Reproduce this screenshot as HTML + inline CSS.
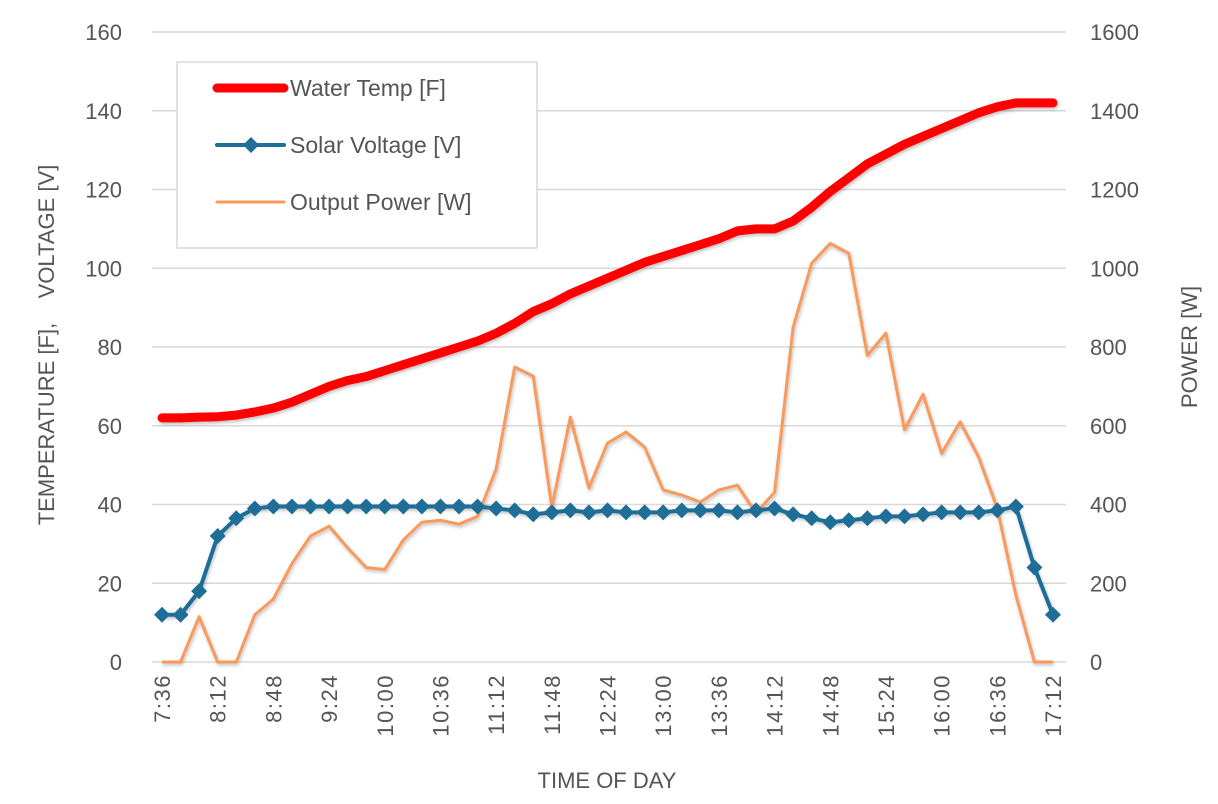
<!DOCTYPE html>
<html><head><meta charset="utf-8"><style>
body{margin:0;background:#fff;width:1218px;height:799px;overflow:hidden;font-family:"Liberation Sans",sans-serif}
svg text{font-family:"Liberation Sans",sans-serif;fill:#555}
</style></head><body>
<svg id="chart" width="1218" height="799" viewBox="0 0 1218 799"></svg>
<script>
const categories=["7:36","7:48","8:00","8:12","8:24","8:36","8:48","9:00","9:12","9:24","9:36","9:48","10:00","10:12","10:24","10:36","10:48","11:00","11:12","11:24","11:36","11:48","12:00","12:12","12:24","12:36","12:48","13:00","13:12","13:24","13:36","13:48","14:00","14:12","14:24","14:36","14:48","15:00","15:12","15:24","15:36","15:48","16:00","16:12","16:24","16:36","16:48","17:00","17:12"];
const waterTemp=[62,62,62.2,62.3,62.7,63.5,64.5,66,68,70,71.5,72.5,74,75.5,77,78.5,80,81.5,83.5,86,89,91,93.5,95.5,97.5,99.5,101.5,103,104.5,106,107.5,109.5,110,110,112,115.5,119.5,123,126.5,129,131.5,133.5,135.5,137.5,139.5,141,142,142,142];
const solarVoltage=[12,12,18,32,36.5,39,39.5,39.5,39.5,39.5,39.5,39.5,39.5,39.5,39.5,39.5,39.5,39.5,39,38.5,37.5,38,38.5,38,38.5,38,38,38,38.5,38.5,38.5,38,38.5,39,37.5,36.5,35.5,36,36.5,37,37,37.5,38,38,38,38.5,39.5,24,12];
const outputPower=[0,0,115,0,0,120,160,250,320,345,290,240,235,310,355,360,350,370,490,749,726,393,622,442,556,584,546,437,424,406,437,449,378,431,850,1013,1063,1038,779,835,590,680,530,610,520,390,170,0,0];
const leftTicks=[0,20,40,60,80,100,120,140,160];
const rightTicks=[0,200,400,600,800,1000,1200,1400,1600];
</script>
<script>
(function(){
const svg=document.getElementById('chart');
const NS='http://www.w3.org/2000/svg';
const X0=162,X1=1053,Y0=662,Y1=32;
const x=i=>X0+(X1-X0)*i/(categories.length-1);
const yL=v=>Y0-(Y0-Y1)*v/160;
const yR=v=>Y0-(Y0-Y1)*v/1600;
function mk(tag,attrs,parent){const e=document.createElementNS(NS,tag);for(const k in attrs)e.setAttribute(k,attrs[k]);(parent||svg).appendChild(e);return e;}
const defs=mk('defs',{});
const f=mk('filter',{id:'sh',x:'-5%',y:'-5%',width:'110%',height:'120%'},defs);
mk('feDropShadow',{dx:'1',dy:'2',stdDeviation:'1.5','flood-color':'#000','flood-opacity':'0.25'},f);
leftTicks.forEach((v,i)=>{
 const g=mk('line',{x1:152,x2:1066,y1:yL(v),y2:yL(v),stroke:'#d9d9d9','stroke-width':1.5});
 
 
 const t=mk('text',{x:122,y:yL(v)+8,'text-anchor':'end','font-size':22});
 t.textContent=v;
 
 
});
rightTicks.forEach(v=>{
 const t=mk('text',{x:1090,y:yR(v)+8,'text-anchor':'start','font-size':22});
 t.textContent=v;
 
 
});
categories.forEach((c,i)=>{
 if(i%3!==0)return;
 const t=mk('text',{transform:`translate(${x(i)+8},674) rotate(-90)`,'text-anchor':'end','font-size':22,'letter-spacing':'1.5'});
 t.textContent=c;
 
 
});
const pts=(arr,fy)=>arr.map((v,i)=>x(i)+','+fy(v)).join(' ');
const pw=mk('polyline',{points:pts(outputPower,yR),fill:'none',stroke:'#f9995c','stroke-width':3,'stroke-linejoin':'round',filter:'url(#sh)'});


const vl=mk('polyline',{points:pts(solarVoltage,yL),fill:'none',stroke:'#1f6e98','stroke-width':4,'stroke-linejoin':'round',filter:'url(#sh)'});


solarVoltage.forEach((v,i)=>{
 const cx=x(i),cy=yL(v),r=8;
 const d=mk('polygon',{points:`${cx},${cy-r} ${cx+r},${cy} ${cx},${cy+r} ${cx-r},${cy}`,fill:'#1f6e98'});
 
 
});
const wt=mk('polyline',{points:pts(waterTemp,yL),fill:'none',stroke:'#ff0000','stroke-width':9,'stroke-linejoin':'round','stroke-linecap':'round',filter:'url(#sh)'});


const lt=mk('text',{transform:'translate(54,345) rotate(-90)','text-anchor':'middle','font-size':22});
lt.textContent='TEMPERATURE [F],\u00a0\u00a0\u00a0\u00a0VOLTAGE [V]';


const rt=mk('text',{transform:'translate(1197,347) rotate(-90)','text-anchor':'middle','font-size':22});
rt.textContent='POWER [W]';


const xt=mk('text',{x:607,y:788,'text-anchor':'middle','font-size':22});
xt.textContent='TIME OF DAY';


const lg=mk('g',{});


mk('rect',{x:177,y:62,width:360,height:186,fill:'#fff',stroke:'#d9d9d9','stroke-width':1.5},lg);
const items=[['Water Temp [F]','#ff0000',9,false],['Solar Voltage [V]','#1f6e98',4,true],['Output Power [W]','#f9995c',3,false]];
items.forEach((it,i)=>{
 const yy=88+i*57;
 const g=mk('g',{},lg);
 
 
 mk('line',{x1:217,x2:284,y1:yy,y2:yy,stroke:it[1],'stroke-width':it[2],'stroke-linecap':'round'},g);
 if(it[3])mk('polygon',{points:`251,${yy-8} 259,${yy} 251,${yy+8} 243,${yy}`,fill:it[1]},g);
 const t=mk('text',{x:290,y:yy+8,'font-size':23},g);
 t.textContent=it[0];
});
})();
</script>
</body></html>
